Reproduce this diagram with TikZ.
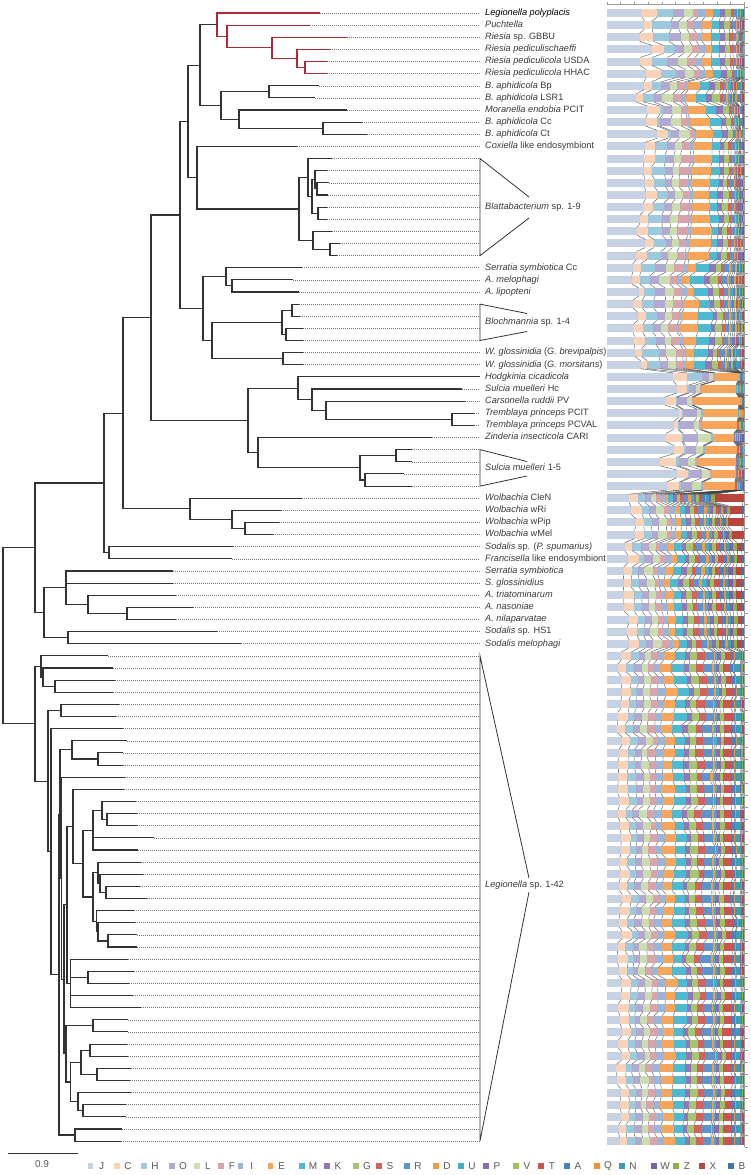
\documentclass[tikz,border=0pt]{standalone}
\usepackage{fontspec}
\setmainfont{Liberation Sans}
\usetikzlibrary{calc}
\definecolor{c1}{HTML}{C6D1E4}
\definecolor{c2}{HTML}{F9D2B8}
\definecolor{c3}{HTML}{9CC9DE}
\definecolor{c4}{HTML}{B1A9CF}
\definecolor{c5}{HTML}{CADCB0}
\definecolor{c6}{HTML}{D9A3AC}
\definecolor{c7}{HTML}{9BB5D9}
\definecolor{c8}{HTML}{F6A55A}
\definecolor{c9}{HTML}{4DBAD2}
\definecolor{c10}{HTML}{8F78B3}
\definecolor{c11}{HTML}{A5C56E}
\definecolor{c12}{HTML}{D3625F}
\definecolor{c13}{HTML}{5E93CB}
\definecolor{c14}{HTML}{F29C45}
\definecolor{c15}{HTML}{3EB1C8}
\definecolor{c16}{HTML}{8A6DB1}
\definecolor{c17}{HTML}{9FC05A}
\definecolor{c18}{HTML}{CB5451}
\definecolor{c19}{HTML}{4C80C2}
\definecolor{c20}{HTML}{EB932F}
\definecolor{c21}{HTML}{3A9FB3}
\definecolor{c22}{HTML}{7C62A3}
\definecolor{c23}{HTML}{8DB04A}
\definecolor{c24}{HTML}{B9453F}
\definecolor{c25}{HTML}{4271B2}
\definecolor{treecol}{HTML}{333333}
\definecolor{redcol}{HTML}{B02A36}
\definecolor{labcol}{HTML}{3A3A3A}
\definecolor{dashcol}{HTML}{777777}
\definecolor{axiscol}{HTML}{9A9A9A}

\newcommand\leafpt[3]{%
  \coordinate (#1) at (#2,{13+(#3-1)*12.13});
  \coordinate (#1e) at (480,{13+(#3-1)*12.13});
  \draw[dashln] (#1) -- (#1e);}
\newcommand\inode[5][treeln]{%
  \coordinate (#2m) at ($(#4)!0.5!(#5)$);
  \coordinate (#2x) at (#3,0);
  \coordinate (#2) at (#2m -| #2x);
  \draw[#1] (#2) |- (#4) (#2) |- (#5);}
\newcommand\inodeiii[6][treeln]{%
  \coordinate (#2m) at ($(#4)!0.5!(#6)$);
  \coordinate (#2x) at (#3,0);
  \coordinate (#2) at (#2m -| #2x);
  \draw[#1] (#2) |- (#4) (#2) |- (#5) (#2) |- (#6);}
\newcommand\inodeiv[7][treeln]{%
  \coordinate (#2m) at ($(#4)!0.5!(#7)$);
  \coordinate (#2x) at (#3,0);
  \coordinate (#2) at (#2m -| #2x);
  \draw[#1] (#2) |- (#4) (#2) |- (#5) (#2) |- (#6) (#2) |- (#7);}

\def\profA{38,14,14,10,9,7,6,8,9,6,5,3,3,1,1,1,1,.6,.6,.5,.5,.5,.5,.5,.5}
\def\profAb{33,8,17,9,8,7,9,12,9,5,5,3,3,1,1,1,1,.6,.6,.5,.5,.5,.5,.5,.5}
\def\profB{35,8,11,10,9,8,3,12,10,6,6,3,3,2,2,2,2,1,1,1,3,1,1,1,1}
\def\profC{47,13,3,10,10,5,2,17,10,6,5,2,2,1,1,1,1,.5,.5,.5,2,.5,.5,.5,.5}
\def\profD{33,10,12,8,8,9,3,18,8,5,5,3,4,1,1,1,1,1,1,.5,1,1,.5,.5,.5}
\def\profE{30,7,12,10,10,8,5,8,13,6,6,4,5,2,2,2,2,1,1,1,1,1,1,1,1}
\def\profF{28,10,10,10,7,8,3,17,13,5,6,3,4,2,2,2,2,1,1,1,1,1,1,1,1}
\def\profG{30,7,15,8,8,8,3,8,13,6,5,3,4,2,2,2,2,1,1,1,4,1,1,1,1}
\def\profHod{60,15,15,7,6,1,1,27,.4,.4,.4,.4,.4,.4,.4,.4,.4,.4,.4,.4,.4,.4,.4,.4,.4}
\def\profSh{73,10,2,8,5,1,1,28,.5,.5,.5,.5,.5,.5,.5,.5,.5,.5,.5,.5,.5,.5,.5,.5,.5}
\def\profCar{55,13,1,10,5,1,1,42,.4,.4,.4,.4,.4,.4,.4,.4,.4,.4,.4,.4,.4,.4,.4,.4,.4}
\def\profTre{73,4,1,13,4,1,1,37,.4,.4,.4,.4,.4,.4,.4,.4,.4,.4,.4,.4,.4,.4,.4,.4,.4}
\def\profZin{65,13,1,12,10,1,1,20,.6,.6,.6,.6,.6,.6,.6,.6,.6,.6,.6,.6,.6,.6,.6,.6,.6}
\def\profSul{63,13,2,10,8,1,1,30,.5,.5,.5,.5,.5,.5,.5,.5,.5,.5,.5,.5,.5,.5,.5,.5,.5}
\def\profCle{20,10,6,7,6,5,4,5,5,4,4,4,4,3,3,3,3,4,3,2,3,3,3,30,2}
\def\profWol{27,10,8,8,8,6,5,6,6,5,5,5,5,3,3,3,3,3,3,2,2,3,3,14,2}
\def\profMix{20,10,8,8,8,6,6,7,8,5,6,5,6,3,4,4,4,5,4,2,3,4,4,5,3}
\def\profLeg{13,9,7,7,7,7,7,12,12,5,7,7,9,2,2,4,4,8,3,1,5,1,1,1,1}
\def\legten{Leg,Leg,Leg,Leg,Leg,Leg,Leg,Leg,Leg,Leg}
\edef\barprofiles{A,Ab,A,A,A,A,B,B,C,C,C,D,D,D,D,D,D,D,D,D,D,E,E,E,F,F,F,F,G,G,Hod,Sh,Car,Tre,Tre,Zin,Sul,Sul,Sul,Sul,Cle,Wol,Wol,Wol,Mix,Mix,Mix,Mix,Mix,Mix,Mix,Mix,Mix,\legten,\legten,\legten,\legten,Leg}

\begin{document}
\begin{tikzpicture}[x=1pt,y={(0pt,-1pt)},
  treeln/.style={draw=treecol,line width=1.1pt},
  redln/.style={draw=redcol,line width=1.1pt},
  dashln/.style={draw=dashcol,line width=0.55pt,dash pattern=on 1pt off 1pt},
  triln/.style={draw=treecol,line width=0.8pt,line join=miter},
  lab/.style={anchor=west,inner sep=0pt,text=labcol,font=\fontsize{9.2}{10}\selectfont,text height=6.6pt,text depth=2pt},
  serln/.style={draw=black!75,line width=0.35pt},
  axisln/.style={draw=axiscol,line width=0.6pt},
  legl/.style={inner sep=0pt,text=black!65,font=\fontsize{10}{11}\selectfont},
]
\fill[white] (0,0) rectangle (750,1175);
\useasboundingbox (0,0) rectangle (750,1175);

% ---------- leaves ----------
\leafpt{l1}{320}{1}
\leafpt{l2}{310}{2}
\leafpt{l3}{347}{3}
\leafpt{l4}{330}{4}
\leafpt{l5}{327}{5}
\leafpt{l6}{327}{6}
\leafpt{l7}{319}{7}
\leafpt{l8}{315}{8}
\leafpt{l9}{347}{9}
\leafpt{l10}{362}{10}
\leafpt{l11}{367}{11}
\leafpt{l12}{297}{12}
\leafpt{l13}{332}{13}
\leafpt{l14}{327}{14}
\leafpt{l15}{329}{15}
\leafpt{l16}{328}{16}
\leafpt{l17}{327}{17}
\leafpt{l18}{327}{18}
\leafpt{l19}{332}{19}
\leafpt{l20}{340}{20}
\leafpt{l21}{337}{21}
\leafpt{l22}{302}{22}
\leafpt{l23}{293}{23}
\leafpt{l24}{299}{24}
\leafpt{l25}{299}{25}
\leafpt{l26}{300}{26}
\leafpt{l27}{303}{27}
\leafpt{l28}{303}{28}
\leafpt{l29}{303}{29}
\leafpt{l30}{303}{30}
\leafpt{l31}{480}{31}
\leafpt{l32}{462}{32}
\leafpt{l33}{465}{33}
\leafpt{l34}{474}{34}
\leafpt{l35}{474}{35}
\leafpt{l36}{432}{36}
\leafpt{l37}{412}{37}
\leafpt{l38}{412}{38}
\leafpt{l39}{404}{39}
\leafpt{l40}{412}{40}
\leafpt{l41}{302}{41}
\leafpt{l42}{281}{42}
\leafpt{l43}{279}{43}
\leafpt{l44}{273}{44}
\leafpt{l45}{233}{45}
\leafpt{l46}{232}{46}
\leafpt{l47}{173}{47}
\leafpt{l48}{173}{48}
\leafpt{l49}{176}{49}
\leafpt{l50}{193}{50}
\leafpt{l51}{176}{51}
\leafpt{l52}{217}{52}
\leafpt{l53}{241}{53}
\leafpt{l54}{108}{54}
\leafpt{l55}{113}{55}
\leafpt{l56}{115}{56}
\leafpt{l57}{113}{57}
\leafpt{l58}{119}{58}
\leafpt{l59}{116}{59}
\leafpt{l60}{123}{60}
\leafpt{l61}{127}{61}
\leafpt{l62}{123}{62}
\leafpt{l63}{123}{63}
\leafpt{l64}{125}{64}
\leafpt{l65}{124}{65}
\leafpt{l66}{136}{66}
\leafpt{l67}{137}{67}
\leafpt{l68}{137}{68}
\leafpt{l69}{154}{69}
\leafpt{l70}{138}{70}
\leafpt{l71}{141}{71}
\leafpt{l72}{143}{72}
\leafpt{l73}{140}{73}
\leafpt{l74}{147}{74}
\leafpt{l75}{134}{75}
\leafpt{l76}{135}{76}
\leafpt{l77}{137}{77}
\leafpt{l78}{137}{78}
\leafpt{l79}{128}{79}
\leafpt{l80}{134}{80}
\leafpt{l81}{129}{81}
\leafpt{l82}{133}{82}
\leafpt{l83}{141}{83}
\leafpt{l84}{128}{84}
\leafpt{l85}{128}{85}
\leafpt{l86}{127}{86}
\leafpt{l87}{128}{87}
\leafpt{l88}{131}{88}
\leafpt{l89}{130}{89}
\leafpt{l90}{131}{90}
\leafpt{l91}{126}{91}
\leafpt{l92}{126}{92}
\leafpt{l93}{122}{93}
\leafpt{l94}{121}{94}

% ---------- internal nodes ----------
\inode[redln]{n305}{305}{l5}{l6}
\inode[redln]{n297}{297}{l4}{n305}
\inode[redln]{n272}{272}{l3}{n297}
\inode[redln]{n227}{227}{l2}{n272}
\inode[redln]{n217}{217}{l1}{n227}
\inode{n269}{269}{l7}{l8}
\inode{n323}{323}{l10}{l11}
\inode{n239}{239}{l9}{n323}
\inode{n221}{221}{n269}{n239}
\inode{n200}{200}{n217}{n221}
\inode{b6}{317}{l15}{l16}
\inode{b4}{315}{l14}{b6}
\inode{b5}{318}{l17}{l18}
\inode{b3}{312}{b4}{b5}
\inode{b1}{308}{l13}{b3}
\inode{b7}{330}{l20}{l21}
\inode{b2}{313}{l19}{b7}
\inode{b0}{299}{b1}{b2}
\inode{n197}{197}{l12}{b0}
\inode{n188}{188}{n200}{n197}
\inode{n232b}{232}{l23}{l24}
\inode{n226}{226}{l22}{n232b}
\inode{blA}{292}{l25}{l26}
\inode{blB}{286}{l27}{l28}
\inode{bl}{282}{blA}{blB}
\inode{wg}{283}{l29}{l30}
\inode{n212}{212}{bl}{wg}
\inode{n203}{203}{n226}{n212}
\inode{n180}{180}{n188}{n203}
\inode{n452}{452}{l34}{l35}
\inode{n326}{326}{l33}{n452}
\inode{n312}{312}{l32}{n326}
\inode{n298}{298}{l31}{n312}
\inode{n396}{396}{l37}{l38}
\inode{n365}{365}{l39}{l40}
\inode{n360}{360}{n396}{n365}
\inode{n258}{258}{l36}{n360}
\inode{n248}{248}{n298}{n258}
\inode{n151}{151}{n180}{n248}
\inode{n245}{245}{l43}{l44}
\inode{n232w}{232}{l42}{n245}
\inode{n190}{190}{l41}{n232w}
\inode{n123}{123}{n151}{n190}
\inode{n109}{109}{l45}{l46}
\inode{n104}{104}{n123}{n109}
\inode{n127}{127}{l50}{l51}
\inode{n88}{88}{l49}{n127}
\inodeiii{n66}{66}{l47}{l48}{n88}
\inode{n68}{68}{l52}{l53}
\inode{n44}{44}{n66}{n68}
\inode{n35}{35}{n104}{n44}
% Legionella clade
\inode{n55}{55}{l56}{l57}
\inode{n43}{43}{l55}{n55}
\inode{n41}{41}{l54}{n43}
\inode{n61}{61}{l58}{l59}
\inode{n98a}{98}{l62}{l63}
\inode{n72}{72}{l61}{n98a}
\inode{n107}{107}{l67}{l68}
\inode{n101}{102}{l66}{n107}
\inodeiii{n93}{93}{n101}{l69}{l70}
\inode{n106}{106}{l73}{l74}
\inode{n100}{100}{l72}{n106}
\inode{n98}{98}{l71}{n100}
\inode{n108}{108}{l77}{l78}
\inode{n98b}{98}{l76}{n108}
\inode{n96}{96.7}{l75}{n98b}
\inode{n93b}{93}{n98}{n96}
\inode{n83}{83}{n93}{n93b}
\inode{n73}{73}{l65}{n83}
\inode{n88b}{88}{l80}{l81}
\inodeiv{n70}{70.7}{l79}{n88b}{l82}{l83}
\inode{n67}{67}{n73}{n70}
\inode{n93c}{93}{l84}{l85}
\inode{n90}{90}{l86}{l87}
\inode{n97}{97}{l88}{l89}
\inode{n81}{81}{n90}{n97}
\inode{n83b}{83}{l91}{l92}
\inode{n78}{78}{l90}{n83b}
\inode{n70b}{70.7}{n81}{n78}
\inode{n66b}{66}{n93c}{n70b}
\inode{n64}{64}{n67}{n66b}
\inode{n62}{61.5}{l64}{n64}
\inode{n60}{60}{n72}{n62}
\inode{n75}{75}{l93}{l94}
\inode{n59}{59}{n60}{n75}
\inode{n51}{51}{l60}{n59}
\inode{n48}{48}{n61}{n51}
\inode{n35b}{35}{n41}{n48}
\inode{root}{3}{n35}{n35b}

% ---------- collapsed-group triangles ----------
\coordinate (trAa) at (529,197); \coordinate (trAb) at (529,218);
\draw[triln] (trAa) -- (l13e) -- (l21e) -- (trAb);
\coordinate (trBa) at (527,313.5); \coordinate (trBb) at (527,331.5);
\draw[triln] (trBa) -- (l25e) -- (l28e) -- (trBb);
\coordinate (trCa) at (527,461.5); \coordinate (trCb) at (527,476);
\draw[triln] (trCa) -- (l37e) -- (l40e) -- (trCb);
\coordinate (trDa) at (529,878); \coordinate (trDb) at (529,892);
\draw[triln] (trDa) -- (l54e) -- (l94e) -- (trDb);

% ---------- labels ----------
\node[lab,text=black] (t1) at ([xshift=5pt]l1e) {\textit{Legionella polyplacis}};
\node[lab] (t2) at ([xshift=5pt]l2e) {\textit{Puchtella}};
\node[lab] (t3) at ([xshift=5pt]l3e) {\textit{Riesia} sp. GBBU};
\node[lab] (t4) at ([xshift=5pt]l4e) {\textit{Riesia pediculischaeffi}};
\node[lab] (t5) at ([xshift=5pt]l5e) {\textit{Riesia pediculicola} USDA};
\node[lab] (t6) at ([xshift=5pt]l6e) {\textit{Riesia pediculicola} HHAC};
\node[lab] (t7) at ([xshift=5pt]l7e) {\textit{B. aphidicola} Bp};
\node[lab] (t8) at ([xshift=5pt]l8e) {\textit{B. aphidicola} LSR1};
\node[lab] (t9) at ([xshift=5pt]l9e) {\textit{Moranella endobia} PCIT};
\node[lab] (t10) at ([xshift=5pt]l10e) {\textit{B. aphidicola} Cc};
\node[lab] (t11) at ([xshift=5pt]l11e) {\textit{B. aphidicola} Ct};
\node[lab] (t12) at ([xshift=5pt]l12e) {\textit{Coxiella} like endosymbiont};
\node[lab] (tBlat) at ([xshift=5pt]l17e) {\textit{Blattabacterium} sp. 1-9};
\node[lab] (t22) at ([xshift=5pt]l22e) {\textit{Serratia symbiotica} Cc};
\node[lab] (t23) at ([xshift=5pt]l23e) {\textit{A. melophagi}};
\node[lab] (t24) at ([xshift=5pt]l24e) {\textit{A. lipopteni}};
\coordinate (mBo) at ($(l25e)!0.5!(l28e)$);
\node[lab] (tBlo) at ([xshift=5pt]mBo) {\textit{Blochmannia} sp. 1-4};
\node[lab] (t29) at ([xshift=5pt]l29e) {\textit{W. glossinidia} (\textit{G. brevipalpis})};
\node[lab] (t30) at ([xshift=5pt]l30e) {\textit{W. glossinidia} (\textit{G. morsitans})};
\node[lab] (t31) at ([xshift=5pt]l31e) {\textit{Hodgkinia cicadicola}};
\node[lab] (t32) at ([xshift=5pt]l32e) {\textit{Sulcia muelleri} Hc};
\node[lab] (t33) at ([xshift=5pt]l33e) {\textit{Carsonella ruddii} PV};
\node[lab] (t34) at ([xshift=5pt]l34e) {\textit{Tremblaya princeps} PCIT};
\node[lab] (t35) at ([xshift=5pt]l35e) {\textit{Tremblaya princeps} PCVAL};
\node[lab] (t36) at ([xshift=5pt]l36e) {\textit{Zinderia insecticola} CARI};
\coordinate (mSu) at ($(l37e)!0.5!(l40e)$);
\node[lab] (tSul) at ([xshift=5pt]mSu) {\textit{Sulcia muelleri} 1-5};
\node[lab] (t41) at ([xshift=5pt]l41e) {\textit{Wolbachia} CleN};
\node[lab] (t42) at ([xshift=5pt]l42e) {\textit{Wolbachia} wRi};
\node[lab] (t43) at ([xshift=5pt]l43e) {\textit{Wolbachia} wPip};
\node[lab] (t44) at ([xshift=5pt]l44e) {\textit{Wolbachia} wMel};
\node[lab] (t45) at ([xshift=5pt]l45e) {\textit{Sodalis} sp. (\textit{P. spumarius)}};
\node[lab] (t46) at ([xshift=5pt]l46e) {\textit{Francisella} like endosymbiont};
\node[lab] (t47) at ([xshift=5pt]l47e) {\textit{Serratia symbiotica}};
\node[lab] (t48) at ([xshift=5pt]l48e) {\textit{S. glossinidius}};
\node[lab] (t49) at ([xshift=5pt]l49e) {\textit{A. triatominarum}};
\node[lab] (t50) at ([xshift=5pt]l50e) {\textit{A. nasoniae}};
\node[lab] (t51) at ([xshift=5pt]l51e) {\textit{A. nilaparvatae}};
\node[lab] (t52) at ([xshift=5pt]l52e) {\textit{Sodalis} sp. HS1};
\node[lab] (t53) at ([xshift=5pt]l53e) {\textit{Sodalis melophagi}};
\coordinate (mLe) at (480,885);
\node[lab] (tLeg) at ([xshift=5pt]mLe) {\textit{Legionella} sp. 1-42};

% ---------- stacked bars ----------
\pgfmathsetseed{20231}
\gdef\yp{0}
\foreach \p [count=\i] in \barprofiles {
  \pgfmathsetmacro\yc{13+(\i-1)*12.13}
  \expandafter\let\expandafter\curprof\csname prof\p\endcsname
  \gdef\tot{0}
  \foreach \w [count=\k] in \curprof {
    \pgfmathsetmacro\wj{\w*(1+0.22*rand)}
    \expandafter\xdef\csname w\k\endcsname{\wj}
    \pgfmathsetmacro\nt{\tot+\wj}
    \xdef\tot{\nt}
  }
  \pgfmathsetmacro\sc{137.5/\tot}
  \gdef\cum{607}
  \foreach \k in {1,...,25} {
    \pgfmathsetmacro\nr{\cum+\csname w\k\endcsname*\sc}
    \fill[c\k] (\cum,\yc-4) rectangle (\nr,\yc+4);
    \expandafter\xdef\csname b\k\endcsname{\nr}
    \xdef\cum{\nr}
  }
  \ifnum\i>1
    \foreach \k in {1,...,24} {
      \draw[serln] (\csname pb\k\endcsname,\yp+4) -- (\csname b\k\endcsname,\yc-4);
    }
  \fi
  \foreach \k in {1,...,25} {\expandafter\xdef\csname pb\k\endcsname{\csname b\k\endcsname}}
  \xdef\yp{\yc}
}

% ---------- axes ----------
\coordinate (ax0) at (607,4.5);
\coordinate (ax1) at (744.5,4.5);
\coordinate (ax2) at (744.5,1147);
\draw[axisln] (ax0) -- (ax1) -- (ax2);
\foreach \j in {0,...,10} {\draw[axisln] ({607+\j*13.75},4.5) -- ++(0,-2.5);}
\foreach \j in {0,...,94} {\draw[axisln] (744.5,{6.93+\j*12.13}) -- ++(3,0);}

% ---------- scale bar ----------
\coordinate (sb1) at (8,1153);
\coordinate (sb2) at (78,1153);
\draw[draw=treecol,line width=1pt] (sb1) -- (sb2);
\node[legl] (sbl) at (42,1164) {0.9};

% ---------- legend ----------
\foreach \L/\xc [count=\k] in {J/101.7,C/128,H/155,O/183,L/208,F/232,I/251.7,E/281.7,M/313,K/338,G/367,S/390,R/418,D/447,U/472,P/497,V/527,T/552,A/578,Q/608,N/633,W/665,Z/687,X/713,B/742} {
  \fill[c\k] (\xc-13.75,1163.25) rectangle ++(5.5,5.5);
  \node[legl] (lg\k) at (\xc,1166) {\L};
}
\end{tikzpicture}
\end{document}
